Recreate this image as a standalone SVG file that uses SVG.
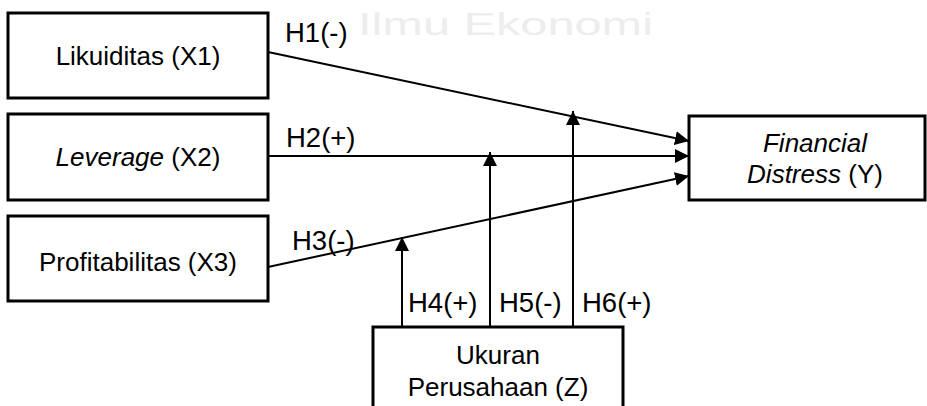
<svg xmlns="http://www.w3.org/2000/svg" width="927" height="406" viewBox="0 0 927 406">
<defs>
<style>
.box{fill:#fff;stroke:#000;stroke-width:3}
.t{font-family:"Liberation Sans",Arial,sans-serif;font-size:26px;fill:#000}
.h{font-family:"Liberation Sans",Arial,sans-serif;font-size:27.5px;fill:#000}
.n{text-anchor:middle}
.wm{font-family:"Liberation Sans",Arial,sans-serif;font-size:31px;fill:#ededed}
.c{stroke:#000;stroke-width:2;fill:none}
</style>
<marker id="ah" viewBox="0 0 14 14" refX="14" refY="7" markerWidth="14" markerHeight="14" markerUnits="userSpaceOnUse" orient="auto">
<path d="M0,0 L14,7 L0,14 Z" fill="#000"/>
</marker>
</defs>
<rect width="927" height="406" fill="#fff"/>
<text class="wm" x="358" y="35" textLength="295" lengthAdjust="spacingAndGlyphs">Ilmu Ekonomi</text>
<g id="connectors">
<line class="c" x1="268" y1="52" x2="689" y2="141" marker-end="url(#ah)"/>
<line class="c" x1="268" y1="156" x2="689" y2="156" marker-end="url(#ah)"/>
<line class="c" x1="268" y1="267" x2="689" y2="176" marker-end="url(#ah)"/>
<line class="c" x1="402" y1="327" x2="402" y2="237" marker-end="url(#ah)"/>
<line class="c" x1="490" y1="327" x2="490" y2="152" marker-end="url(#ah)"/>
<line class="c" x1="573" y1="327" x2="573" y2="111" marker-end="url(#ah)"/>
<text class="h" x="285" y="42">H1(-)</text>
<text class="h" x="286" y="147">H2(+)</text>
<text class="h" x="292" y="250">H3(-)</text>
<text class="h" x="408" y="312">H4(+)</text>
<text class="h" x="499" y="312">H5(-)</text>
<text class="h" x="582" y="312">H6(+)</text>
</g>
<g id="x1">
<rect class="box" x="8" y="13" width="260" height="85"/>
<text class="t n" x="138" y="65">Likuiditas (X1)</text>
</g>
<g id="x2">
<rect class="box" x="8" y="114" width="260" height="86"/>
<text class="t n" x="138" y="166"><tspan font-style="italic">Leverage</tspan> (X2)</text>
</g>
<g id="x3">
<rect class="box" x="8" y="216" width="260" height="85"/>
<text class="t n" x="138" y="271">Profitabilitas (X3)</text>
</g>
<g id="y">
<rect class="box" x="689" y="116" width="236" height="84"/>
<text class="t n" x="815" y="152" font-style="italic">Financial</text>
<text class="t n" x="815" y="183"><tspan font-style="italic">Distress</tspan> (Y)</text>
</g>
<g id="z">
<rect class="box" x="373" y="327" width="250" height="90"/>
<text class="t n" x="498" y="364">Ukuran</text>
<text class="t n" x="498" y="396">Perusahaan (Z)</text>
</g>
</svg>
